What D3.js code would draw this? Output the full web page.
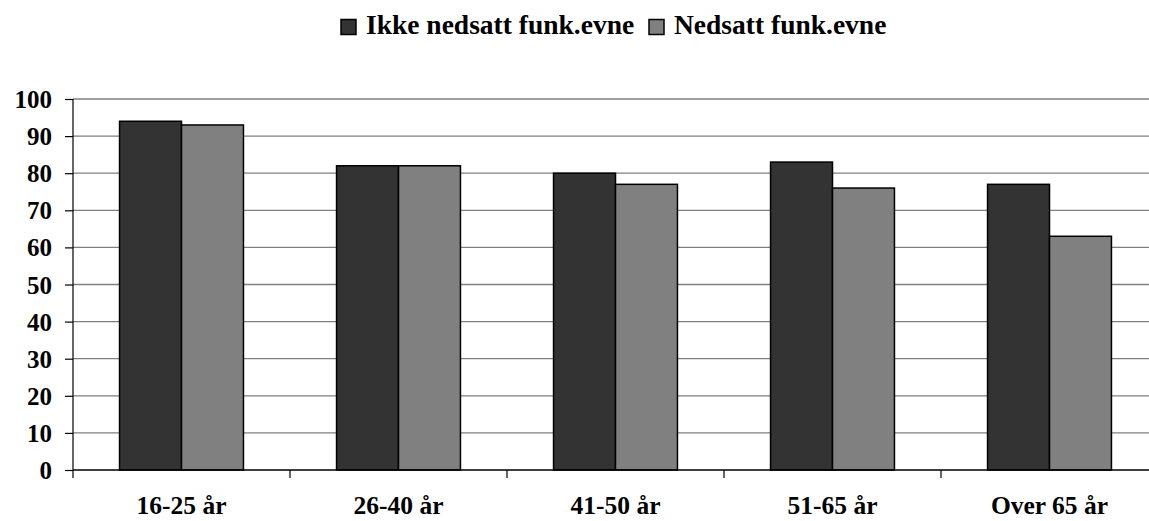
<!DOCTYPE html>
<html>
<head>
<meta charset="utf-8">
<script src="https://cdn.jsdelivr.net/npm/d3@7"></script>
<style>
  html, body { margin: 0; padding: 0; background: #fff; overflow: hidden; }
  svg { display: block; }
  text { font-family: "Liberation Serif", "Times New Roman", serif; font-weight: bold; fill: #000; }
</style>
</head>
<body>
<svg id="chart" width="1149" height="521"></svg>
<script>
// Age groups and share (%) per group
const categories = ["16-25 år", "26-40 år", "41-50 år", "51-65 år", "Over 65 år"];
const seriesNames = ["Ikke nedsatt funk.evne", "Nedsatt funk.evne"];
const ikkeNedsatt = [94, 82, 80, 83, 77];
const nedsatt = [93, 82, 77, 76, 63];
const yTicks = [0, 10, 20, 30, 40, 50, 60, 70, 80, 90, 100];
const colors = ["#333333", "#808080"];

const seriesValues = [ikkeNedsatt, nedsatt];
const rows = categories.map((c, i) => ({ cat: c, values: seriesValues.map(s => s[i]) }));

const svg = d3.select("#chart");
const plotLeft = 73, plotTop = 99, plotW = 1085, plotH = 371;

const g = svg.append("g").attr("transform", `translate(${plotLeft},${plotTop})`);

const x0 = d3.scaleBand().domain(categories).range([0, plotW]).paddingInner(0).paddingOuter(0);
const groupW = x0.bandwidth() * 0.571;
const x1 = d3.scaleBand().domain(seriesNames).range([0, groupW]).padding(0);
const y = d3.scaleLinear().domain([0, 100]).range([plotH, 0]);

// horizontal gridlines
g.append("g").selectAll("line").data(yTicks.filter(t => t > 0)).join("line")
  .attr("x1", 0).attr("x2", plotW)
  .attr("y1", d => y(d)).attr("y2", d => y(d))
  .attr("stroke", "#7f7f7f").attr("stroke-width", 1.3);

// bars
const groups = g.append("g").selectAll("g").data(rows).join("g")
  .attr("transform", d => `translate(${x0(d.cat) + (x0.bandwidth() - groupW) / 2},0)`);
groups.selectAll("rect").data(d => d.values.map((v, i) => ({ v, i }))).join("rect")
  .attr("x", d => x1(seriesNames[d.i]))
  .attr("width", x1.bandwidth())
  .attr("y", d => y(d.v))
  .attr("height", d => plotH - y(d.v))
  .attr("fill", d => colors[d.i])
  .attr("stroke", "#000").attr("stroke-width", 1.5);

// y axis
const yAxis = d3.axisLeft(y).tickValues(yTicks).tickSize(8).tickPadding(13);
const ya = g.append("g").call(yAxis);
ya.select(".domain").remove();
ya.selectAll(".tick line").attr("stroke", "#000").attr("stroke-width", 1.2);
ya.selectAll(".tick text").attr("font-size", "25px").attr("dy", "0.34em")
  .style("font-family", "'Liberation Serif', serif").style("font-weight", "bold");
g.append("line").attr("x1", 0).attr("x2", 0).attr("y1", 0).attr("y2", plotH + 8)
  .attr("stroke", "#000").attr("stroke-width", 1.2);

// x axis baseline with ticks at category boundaries
g.append("line").attr("x1", 0).attr("x2", plotW).attr("y1", plotH).attr("y2", plotH)
  .attr("stroke", "#000").attr("stroke-width", 1.5);
g.append("g").selectAll("line").data(categories.slice(1)).join("line")
  .attr("x1", d => x0(d)).attr("x2", d => x0(d))
  .attr("y1", plotH).attr("y2", plotH + 8)
  .attr("stroke", "#000").attr("stroke-width", 1.2);

// category labels
g.append("g").selectAll("text").data(categories).join("text")
  .attr("x", d => x0(d) + x0.bandwidth() / 2)
  .attr("y", plotH + 44)
  .attr("text-anchor", "middle")
  .attr("font-size", "25.5px")
  .text(d => d);

// legend
const legend = svg.append("g");
const legendX = [341, 649];
seriesNames.forEach((name, i) => {
  legend.append("rect").attr("x", legendX[i]).attr("y", 19.5).attr("width", 15).attr("height", 15)
    .attr("fill", colors[i]).attr("stroke", "#000").attr("stroke-width", 1.5);
  legend.append("text").attr("x", legendX[i] + 25).attr("y", 34)
    .attr("font-size", "27.5px").text(name);
});
</script>
</body>
</html>
